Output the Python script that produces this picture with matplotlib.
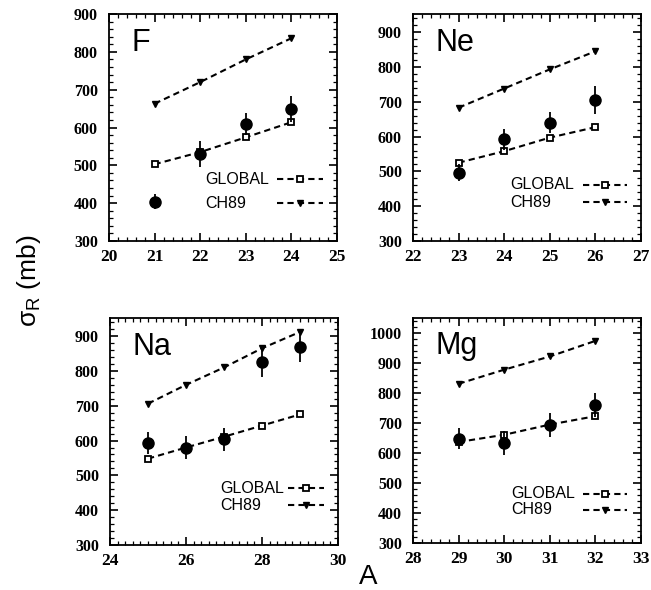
import numpy as np
import matplotlib
matplotlib.use("Agg")
import matplotlib.pyplot as plt
from matplotlib.ticker import MultipleLocator, AutoMinorLocator

plt.rcParams["mathtext.fontset"] = "custom"
plt.rcParams["mathtext.rm"] = "Liberation Sans"

# Reaction cross sections for the four isotope chains
A_F = [21, 22, 23, 24]
exp_F = [404, 530, 609, 649]
err_F = [20, 35, 30, 35]
glob_F = [503, 535, 574, 614]
ch89_F = [663, 720, 780, 836]

A_Ne = [23, 24, 25, 26]
exp_Ne = [496, 592, 640, 704]
err_Ne = [25, 30, 30, 40]
glob_Ne = [525, 558, 597, 627]
ch89_Ne = [683, 738, 793, 845]

A_Na = [25, 26, 27, 28, 29]
exp_Na = [592, 580, 604, 827, 870]
err_Na = [32, 32, 33, 45, 45]
glob_Na = [548, 580, 611, 643, 675]
ch89_Na = [706, 760, 810, 865, 912]

A_Mg = [29, 30, 31, 32]
exp_Mg = [647, 633, 694, 760]
err_Mg = [35, 40, 40, 40]
glob_Mg = [636, 660, 694, 722]
ch89_Mg = [830, 877, 921, 973]

labels = ["GLOBAL", "CH89"]

panels = [
    ("F", A_F, exp_F, err_F, glob_F, ch89_F, (20, 25), 1, (300, 900)),
    ("Ne", A_Ne, exp_Ne, err_Ne, glob_Ne, ch89_Ne, (22, 27), 1, (300, 952)),
    ("Na", A_Na, exp_Na, err_Na, glob_Na, ch89_Na, (24, 30), 2, (300, 952)),
    ("Mg", A_Mg, exp_Mg, err_Mg, glob_Mg, ch89_Mg, (28, 33), 1, (300, 1050)),
]

boxes = [
    [0.1674, 0.5915, 0.3502, 0.3847],
    [0.6344, 0.5915, 0.3502, 0.3847],
    [0.1690, 0.0763, 0.3502, 0.3847],
    [0.6344, 0.0800, 0.3502, 0.3814],
]

# key layout per panel: text x, line x0, x1, row y (GLOBAL, CH89)
keys = [
    (0.421, 0.737, 0.94, (0.273, 0.167)),
    (0.425, 0.746, 0.94, (0.247, 0.170)),
    (0.482, 0.780, 0.94, (0.250, 0.176)),
    (0.430, 0.746, 0.94, (0.218, 0.147)),
]

dash = (0, (3, 2))
styles = [dict(marker="s", mfc="white", mec="k", ms=5, mew=1.3),
          dict(marker="v", mfc="k", mec="k", ms=4.5)]

fig = plt.figure(figsize=(6.51, 5.90), dpi=100)

for (name, A, ex, er, gl, ch, xl, xmaj, yl), box, key in zip(panels, boxes, keys):
    ax = fig.add_axes(box)
    ax.plot(A, gl, ls=dash, color="k", lw=1.5, **styles[0])
    ax.plot(A, ch, ls=dash, color="k", lw=1.5, **styles[1])
    ax.errorbar(A, ex, yerr=er, fmt="o", color="k", ms=8, elinewidth=1.3,
                capsize=0, zorder=5)
    ax.set_xlim(*xl)
    ax.set_ylim(*yl)
    ax.xaxis.set_major_locator(MultipleLocator(xmaj))
    ax.xaxis.set_minor_locator(AutoMinorLocator(5 if xmaj == 1 else 10))
    ax.yaxis.set_major_locator(MultipleLocator(100))
    ax.yaxis.set_minor_locator(AutoMinorLocator(5))
    ax.tick_params(which="both", direction="in", top=True, right=True)
    ax.tick_params(which="major", length=6, width=1.2)
    ax.tick_params(which="minor", length=3, width=0.9)
    ax.tick_params(axis="y", pad=8)
    ax.tick_params(axis="x", pad=6)
    for lab in ax.get_xticklabels():
        lab.set_fontfamily("Liberation Serif")
        lab.set_fontweight("bold")
        lab.set_fontsize(12.5)
    for lab in ax.get_yticklabels():
        lab.set_fontfamily("Liberation Serif")
        lab.set_fontweight("bold")
        lab.set_fontsize(11.5)
    for s in ax.spines.values():
        s.set_linewidth(1.3)
    ax.text(0.10, 0.94, name, transform=ax.transAxes, fontsize=22,
            family="Liberation Sans", va="top", ha="left")

    # hand-placed key: label on the left, dashed sample with marker on the right
    tx, x0, x1, rows = key
    for lab, ry, st in zip(labels, rows, styles):
        ax.text(tx, ry, lab, transform=ax.transAxes, fontsize=11.5,
                family="Liberation Sans", va="center", ha="left")
        ax.plot([x0, x1], [ry, ry], transform=ax.transAxes, ls=dash,
                color="k", lw=1.5, clip_on=False)
        ax.plot([(x0 + x1) / 2], [ry], transform=ax.transAxes, ls="none",
                clip_on=False, **st)

fig.text(0.044, 0.525, r"$\mathrm{σ_R}$ (mb)", rotation=90, fontsize=19,
         family="Liberation Sans", ha="center", va="center")
fig.text(0.565, 0.022, "A", fontsize=20, family="Liberation Sans",
         ha="center", va="center")

fig.savefig("out.png", dpi=100)
